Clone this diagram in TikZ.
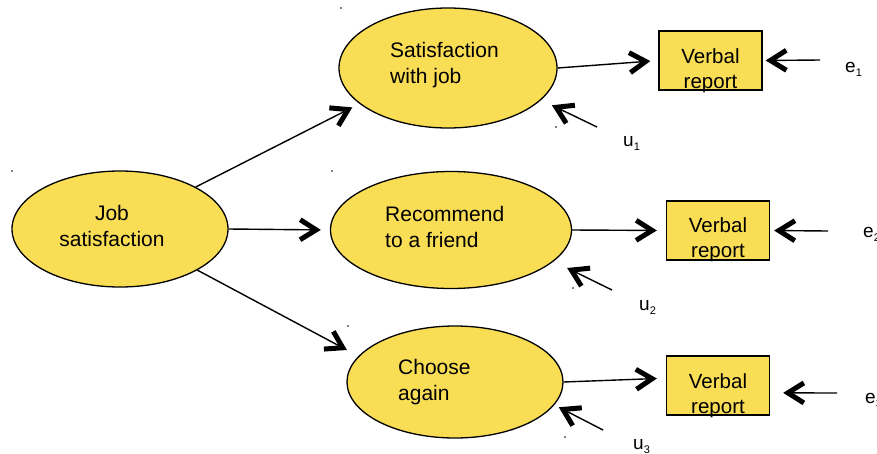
\documentclass[tikz,border=0pt]{standalone}
\usepackage{fontspec}
\setmainfont{Liberation Sans}
\usetikzlibrary{arrows.meta,calc,shapes.geometric}
\definecolor{latentfill}{RGB}{249,221,85}
% lowered small index for the error terms
\newcommand\idx[1]{\raisebox{-4pt}{\fontsize{11}{11}\selectfont #1}}

\begin{document}
\begin{tikzpicture}[x=1pt,y=-1pt,
  latent/.style={ellipse,draw=black,line width=1.3pt,fill=latentfill,inner sep=0pt},
  report/.style={rectangle,draw=black,line width=1.3pt,fill=latentfill,
    minimum width=103pt,minimum height=59pt,inner sep=0pt},
  txt/.style={inner sep=0pt,font=\fontsize{21}{26}\selectfont},
  boxtxt/.style={inner sep=0pt,anchor=north,align=center,font=\fontsize{20.5}{25}\selectfont},
  lbl/.style={inner sep=0pt,anchor=base west,font=\fontsize{19}{23}\selectfont},
  link/.style={line width=1.4pt,-{Straight Barb[length=16pt,width=20pt,line width=5pt]}},
  speck/.style={fill=black,inner sep=0pt,minimum size=1.6pt,circle}
]
\useasboundingbox (0,0) rectangle (877,453);

% latent variables
\node[latent,minimum width=216pt,minimum height=116pt] (job) at (120,229) {};
\node[latent,minimum width=218pt,minimum height=120pt] (sat) at (448,68) {};
\node[latent,minimum width=241pt,minimum height=117pt] (rec) at (451,230) {};
\node[latent,minimum width=216pt,minimum height=112pt] (cho) at (455,382) {};

\node[txt,anchor=north,align=center] (jobtxt) at (112,205) {Job\\satisfaction};
\node[txt,anchor=north west,align=left] (sattxt) at (390,42) {Satisfaction\\with job};
\node[txt,anchor=north west,align=left] (rectxt) at (385,206) {Recommend\\to a friend};
\node[txt,anchor=north west,align=left] (chotxt) at (398,359) {Choose\\again};

% observed indicators
\node[report] (rep1) at (710.5,60.5) {};
\node[report] (rep2) at (718,230.5) {};
\node[report] (rep3) at (718,385.5) {};
\node[boxtxt] (rep1txt) at ($(rep1.center)+(0,-12)$) {Verbal\\report};
\node[boxtxt] (rep2txt) at ($(rep2.center)+(0,-13)$) {Verbal\\report};
\node[boxtxt] (rep3txt) at ($(rep3.center)+(0,-12)$) {Verbal\\report};

% error terms
\node[lbl] (u1) at (623,146) {u\idx{1}};
\node[lbl] (u2) at (639,310) {u\idx{2}};
\node[lbl] (u3) at (633,449) {u\idx{3}};
\node[lbl] (e1) at (845,72) {e\idx{1}};
\node[lbl] (e2) at (863,237) {e\idx{2}};
\node[lbl] (e3) at (865,403) {e\idx{3}};

\coordinate (u1s) at (597,127);
\coordinate (u2s) at (612,290);
\coordinate (u3s) at (603,430);
\coordinate (e1s) at (820,60);
\coordinate (e2s) at (828,231);
\coordinate (e3s) at (837,393);

% structural paths
\draw[link,shorten >=8pt] (job.29) -- (sat.202);
\draw[link,shorten >=9pt] (job.east) -- (rec.west);
\draw[link,shorten >=13pt] (job.-28) -- (cho.165);

% measurement paths
\draw[link,shorten >=8pt] (sat.east) -- (rep1.west);
\draw[link,shorten >=9pt] (rec.east) -- (rep2.west);
\draw[link,shorten >=9pt] (cho.east) -- (rep3.172);

% disturbances
\draw[link,shorten >=12pt] (u1s) -- (sat.-19);
\draw[link,shorten >=15pt] (u2s) -- (rec.-17);
\draw[link,shorten >=5pt] (u3s) -- (cho.-13.5);

% measurement errors
\draw[link,shorten >=3pt] (e1s) -- (rep1.east);
\draw[link,shorten >=4pt] (e2s) -- (rep2.east);
\draw[link,shorten >=13pt] (e3s) -- (rep3.-8);

% stray specks
\foreach \p [count=\i] in {(341,8),(12,171),(332,171),(348,326),(556,127),(573,288),(565,437)}
  \node[speck] (speck\i) at \p {};
\end{tikzpicture}
\end{document}
